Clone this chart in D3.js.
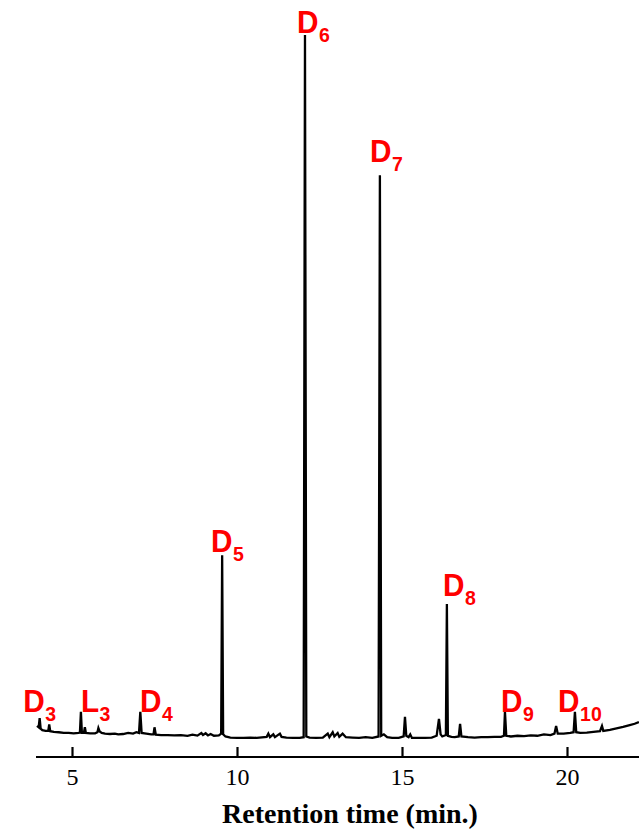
<!DOCTYPE html>
<html>
<head>
<meta charset="utf-8">
<script src="https://cdn.jsdelivr.net/npm/d3@7"></script>
<style>
  html, body { margin: 0; padding: 0; background: #fff; }
  svg { display: block; }
</style>
</head>
<body>
<div id="chart"></div>
<script>
// Retention time (min) and detector response (% of largest peak)
const times = [
  3.94, 3.99, 4.02, 4.05, 4.10, 4.20, 4.28, 4.31, 4.34, 4.45, 4.60, 4.75, 4.90, 5.05, 5.20, 5.24,
  5.27, 5.30, 5.36, 5.39, 5.42, 5.55, 5.70, 5.77, 5.80, 5.84, 5.90, 6.00, 6.15, 6.30, 6.40, 6.55,
  6.70, 6.85, 6.95, 7.03, 7.07, 7.11, 7.25, 7.40, 7.47, 7.50, 7.54, 7.70, 7.90, 8.10, 8.30, 8.50,
  8.65, 8.80, 8.92, 8.97, 9.05, 9.12, 9.20, 9.30, 9.45, 9.52, 9.55, 9.58, 9.65, 9.80, 10.0, 10.2,
  10.4, 10.6, 10.9, 10.95, 11.0, 11.1, 11.15, 11.3, 11.35, 11.5, 11.7, 11.9, 12.02, 12.06, 12.10, 12.2,
  12.4, 12.6, 12.75, 12.8, 12.9, 12.95, 13.05, 13.1, 13.2, 13.3, 13.5, 13.7, 13.9, 14.1, 14.29, 14.33,
  14.37, 14.45, 14.55, 14.7, 14.9, 15.05, 15.09, 15.13, 15.2, 15.25, 15.3, 15.5, 15.7, 15.9, 16.05, 16.12,
  16.17, 16.22, 16.33, 16.36, 16.39, 16.5, 16.6, 16.72, 16.76, 16.8, 17.0, 17.2, 17.4, 17.6, 17.8, 18.0,
  18.09, 18.12, 18.16, 18.3, 18.5, 18.7, 18.9, 19.1, 19.3, 19.5, 19.62, 19.67, 19.72, 19.9, 20.1, 20.2,
  20.24, 20.28, 20.4, 20.6, 20.8, 21.0, 21.06, 21.1, 21.3, 21.5, 21.7, 21.9, 22.05, 22.18
];
const response = [
  2.0, 1.8, 3.1, 1.6, 1.4, 1.3, 1.3, 2.2, 1.25, 1.15, 1.1, 1.0, 1.0, 0.95, 1.0, 1.05,
  4.0, 1.0, 1.0, 1.8, 1.0, 0.95, 0.95, 1.1, 1.7, 1.2, 1.0, 0.9, 0.85, 0.9, 0.8, 0.85,
  1.0, 0.9, 1.1, 1.0, 4.0, 1.0, 0.9, 0.8, 0.8, 1.8, 0.75, 0.7, 0.68, 0.65, 0.7, 0.6,
  0.75, 0.62, 1.0, 0.7, 0.95, 0.65, 0.85, 0.6, 0.65, 0.9, 26.2, 0.8, 0.5, 0.35, 0.3, 0.3,
  0.35, 0.3, 0.45, 0.9, 0.4, 0.8, 0.4, 0.9, 0.45, 0.35, 0.3, 0.3, 0.4, 100, 0.5, 0.35,
  0.3, 0.35, 0.9, 0.4, 1.1, 0.5, 1.0, 0.45, 0.9, 0.4, 0.35, 0.3, 0.4, 0.3, 0.5, 80.1,
  0.6, 0.8, 0.4, 0.3, 0.3, 0.5, 3.3, 0.6, 0.4, 0.8, 0.3, 0.3, 0.3, 0.35, 0.6, 3.0,
  0.8, 0.5, 0.7, 19.3, 0.6, 0.45, 0.4, 0.5, 2.3, 0.5, 0.4, 0.35, 0.4, 0.4, 0.45, 0.45,
  0.6, 4.0, 0.6, 0.5, 0.6, 0.55, 0.65, 0.6, 0.8, 0.7, 0.9, 2.0, 0.9, 0.9, 1.0, 1.1,
  4.0, 1.1, 1.0, 1.05, 1.15, 1.25, 2.0, 1.3, 1.45, 1.65, 1.85, 2.1, 2.3, 2.55
];

// Peak annotations: letter, subscript, anchor time and anchor response
const labelNames = ["D", "L", "D", "D", "D", "D", "D", "D", "D"];
const labelSubs  = ["3", "3", "4", "5", "6", "7", "8", "9", "10"];
const labelTimes = [3.52, 5.27, 7.06, 9.21, 11.82, 14.03, 16.24, 18.0, 19.73];
const labelLevels = [3.97, 3.97, 3.97, 26.67, 100.28, 81.99, 20.43, 3.97, 3.97];

// Axis
const tickValues = [5, 10, 15, 20];
const xTitle = "Retention time (min.)";

const W = 639, H = 832;
const svg = d3.select("#chart").append("svg").attr("width", W).attr("height", H);

const x = d3.scaleLinear().domain([3.9, 22.2]).range([35.7, 639.6]);
const y = d3.scaleLinear().domain([0, 100]).range([740, 35]);

const data = times.map((t, i) => ({ t, v: response[i] }));

svg.append("path")
  .datum(data)
  .attr("fill", "none")
  .attr("stroke", "#000")
  .attr("stroke-width", 2.3)
  .attr("stroke-linejoin", "miter")
  .attr("d", d3.line().x(d => x(d.t)).y(d => y(d.v)));

// x axis at the bottom, ticks pointing up
const axisY = 757;
const axis = svg.append("g").attr("transform", `translate(0,${axisY})`)
  .call(d3.axisBottom(x).tickValues(tickValues).tickSizeInner(-10).tickSizeOuter(0).tickPadding(0));
axis.select(".domain").remove();
axis.append("line").attr("x1", 36).attr("x2", 639).attr("y1", 0).attr("y2", 0)
  .attr("stroke", "#000").attr("stroke-width", 2);
axis.selectAll(".tick line").attr("stroke", "#000").attr("stroke-width", 2.2);
axis.selectAll(".tick text")
  .attr("y", 28)
  .attr("dy", 0)
  .attr("fill", "#000")
  .style("font-family", "'Liberation Serif', 'Times New Roman', serif")
  .style("font-size", "24px");

svg.append("text")
  .attr("x", 350).attr("y", 823)
  .attr("text-anchor", "middle")
  .style("font-family", "'Liberation Serif', 'Times New Roman', serif")
  .style("font-weight", "bold")
  .style("font-size", "28px")
  .attr("fill", "#000")
  .text(xTitle);

// Peak labels
const sx = 0.93;
labelNames.forEach((name, i) => {
  const lx = x(labelTimes[i]);
  const ly = y(labelLevels[i]);
  const g = svg.append("g").attr("class", "peak-label");
  const main = g.append("text")
    .attr("transform", `translate(${lx},${ly}) scale(${sx},1)`)
    .style("font-family", "'Liberation Sans', Arial, sans-serif")
    .style("font-weight", "bold")
    .style("font-size", "32px")
    .attr("fill", "#ff0000")
    .text(name);
  const w = main.node().getComputedTextLength() * sx;
  g.append("text")
    .attr("x", lx + w + 0.5)
    .attr("y", ly + 9)
    .style("font-family", "'Liberation Sans', Arial, sans-serif")
    .style("font-weight", "bold")
    .style("font-size", "19.5px")
    .attr("fill", "#ff0000")
    .text(labelSubs[i]);
});
</script>
</body>
</html>
